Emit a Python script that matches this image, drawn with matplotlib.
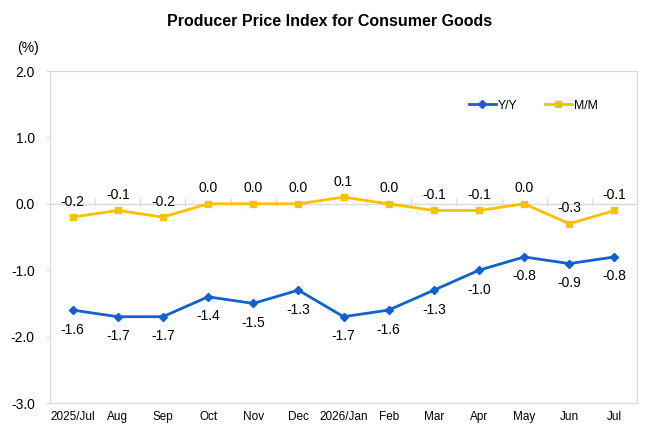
import matplotlib
matplotlib.use('Agg')
import matplotlib.pyplot as plt
import numpy as np

plt.rcParams['font.family'] = ['Liberation Sans', 'DejaVu Sans']

months = ['2025/Jul', 'Aug', 'Sep', 'Oct', 'Nov', 'Dec', '2026/Jan',
          'Feb', 'Mar', 'Apr', 'May', 'Jun', 'Jul']
yy = [-1.6, -1.7, -1.7, -1.4, -1.5, -1.3, -1.7, -1.6, -1.3, -1.0, -0.8, -0.9, -0.8]
mm = [-0.2, -0.1, -0.2, 0.0, 0.0, 0.0, 0.1, 0.0, -0.1, -0.1, 0.0, -0.3, -0.1]
yticks = [-3.0, -2.0, -1.0, 0.0, 1.0, 2.0]

blue = '#0E62D0'
gold = '#FFC000'
grey = '#D9D9D9'

fig = plt.figure(figsize=(6.6, 4.4), dpi=100)
ax = fig.add_axes([0.0758, 0.084, 0.8894, 0.7546])

x = np.arange(len(months))
ax.set_xlim(-0.5, len(months) - 0.5)
ax.set_ylim(-3.0, 2.0)

# zero line with category dividers
ax.axhline(0, color=grey, lw=1, zorder=1)
for b in np.arange(0.5, len(months) - 1, 1.0):
    ax.plot([b, b], [-0.02, 0.07], color=grey, lw=1, zorder=1)

ax.plot(x, yy, color=blue, lw=2, marker='D', ms=4.5, label='Y/Y', zorder=3)
ax.plot(x, mm, color=gold, lw=2, marker='s', ms=5, label='M/M', zorder=3)

for xi, v in zip(x, yy):
    ax.annotate(f'{v:.1f}', (xi, v), xytext=(0, -9), textcoords='offset points',
                ha='center', va='top', fontsize=10)
for xi, v in zip(x, mm):
    ax.annotate(f'{v:.1f}', (xi, v), xytext=(0, 6), textcoords='offset points',
                ha='center', va='bottom', fontsize=10)

ax.set_yticks(yticks)
ax.set_yticklabels([f'{t:.1f}' for t in yticks], fontsize=10)
ax.set_xticks(x)
ax.set_xticklabels(months, fontsize=8.5)
ax.tick_params(axis='x', length=0, pad=6)
ax.tick_params(axis='y', length=3, color=grey, pad=8)
for s in ax.spines.values():
    s.set_color(grey)

ax.legend(loc='upper right', bbox_to_anchor=(0.952, 0.947), ncol=2, frameon=False,
          fontsize=8.8, handlelength=2.2, columnspacing=2.2, handletextpad=0.2)

fig.text(0.5, 0.95, 'Producer Price Index for Consumer Goods', ha='center', va='center',
         fontsize=11.5, fontweight='bold')
fig.text(0.026, 0.89, '(%)', ha='left', va='center', fontsize=10)

fig.savefig('out.png', dpi=100)
